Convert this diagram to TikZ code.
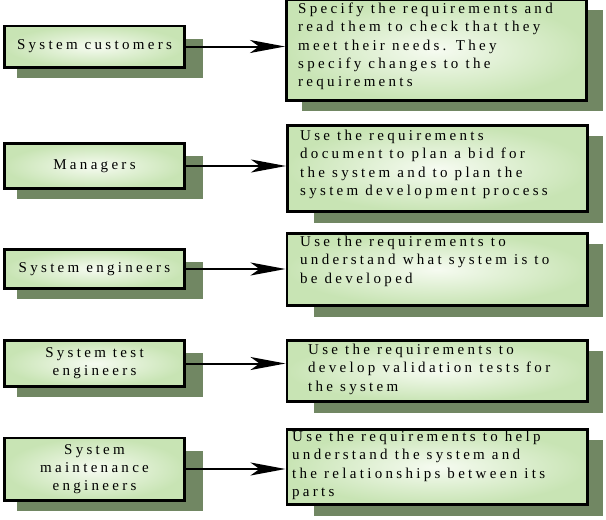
\documentclass[tikz,border=0pt]{standalone}
\usepackage{fontspec}
\setmainfont{Liberation Serif}
\newfontfamily\spacedfont[LetterSpace=22]{Liberation Serif}
\usetikzlibrary{arrows.meta,calc,backgrounds}
\definecolor{boxouter}{RGB}{200,228,180}
\definecolor{boxinner}{RGB}{246,251,241}
\definecolor{shadowgreen}{RGB}{113,135,99}
\tikzset{
  box/.style={draw=black, line width=2.8pt, inner color=boxinner, outer color=boxouter,
    font=\spacedfont\fontsize{15}{18}\selectfont, align=center, inner sep=0pt},
  lbox/.style={box, minimum width=180.2pt},
  rbox/.style={box, minimum width=300.2pt},
  rtext/.style={anchor=north west, inner sep=0pt, align=left,
    font=\spacedfont\fontsize{15}{18.3}\selectfont},
  shadebox/.style={fill=shadowgreen},
  conn/.style={line width=2pt, -{Stealth[length=35pt,width=13pt,inset=9pt]}},
}
\begin{document}
\begin{tikzpicture}[x=1pt,y=-1pt]
\useasboundingbox (0,0) rectangle (606,520);
% left boxes
\node[lbox, minimum height=41.2pt] (l1) at (94.5,46.5) {System customers};
\node[lbox, minimum height=45.2pt] (l2) at (94.5,166) {Managers};
\node[lbox, minimum height=39.2pt] (l3) at (94.5,269) {System engineers};
\node[lbox, minimum height=46.2pt] (l4) at (94.5,363.5) {System test\\engineers};
\node[lbox, minimum height=62.2pt] (l5) at (94.5,469) {System\\maintenance\\engineers};
% right boxes
\node[rbox, minimum height=101.2pt] (r1) at (436.5,50) {};
\node[rbox, minimum height=86.2pt] (r2) at (437.5,168.5) {};
\node[rbox, minimum height=72.2pt] (r3) at (437,269.5) {};
\node[rbox, minimum height=61.2pt] (r4) at (437,371) {};
\node[rbox, minimum height=75.2pt] (r5) at (437,467) {};
% texts of right boxes
\node[rtext] (t1) at (298,0.5) {\strut Specify the requirements and\\read them to check that they\\meet their needs. They\\specify changes to the\\requirements};
\node[rtext] (t2) at (300,127.5) {\strut Use the requirements\\document to plan a bid for\\the system and to plan the\\system development process};
\node[rtext] (t3) at (300,233.5) {\strut Use the requirements to\\understand what system is to\\be developed};
\node[rtext] (t4) at (308,341.5) {\strut Use the requirements to\\develop validation tests for\\the system};
\node[rtext] (t5) at (292,428.5) {\strut Use the requirements to help\\understand the system and\\the relationships between its\\parts};
% shadows
\begin{scope}[on background layer]
  \foreach \b in {l1,l2,l3,l4,l5}
    \fill[shadebox] ($(\b.north west)+(14,14)$) rectangle ($(\b.south east)+(17,9)$);
  \fill[shadebox] ($(r1.north west)+(17,12)$) rectangle ($(r1.south east)+(15,9)$);
  \foreach \b in {r2,r3,r4,r5}
    \fill[shadebox] ($(\b.north west)+(28,12)$) rectangle ($(\b.south east)+(14,10)$);
\end{scope}
% connectors
\draw[conn] (l1.east) -- (l1.east -| r1.west);
\draw[conn] (l2.east) -- (l2.east -| r2.west);
\draw[conn] (l3.east) -- (l3.east -| r3.west);
\draw[conn] (l4.east) -- (l4.east -| r4.west);
\draw[conn] (l5.east) -- (l5.east -| r5.west);
\end{tikzpicture}
\end{document}
